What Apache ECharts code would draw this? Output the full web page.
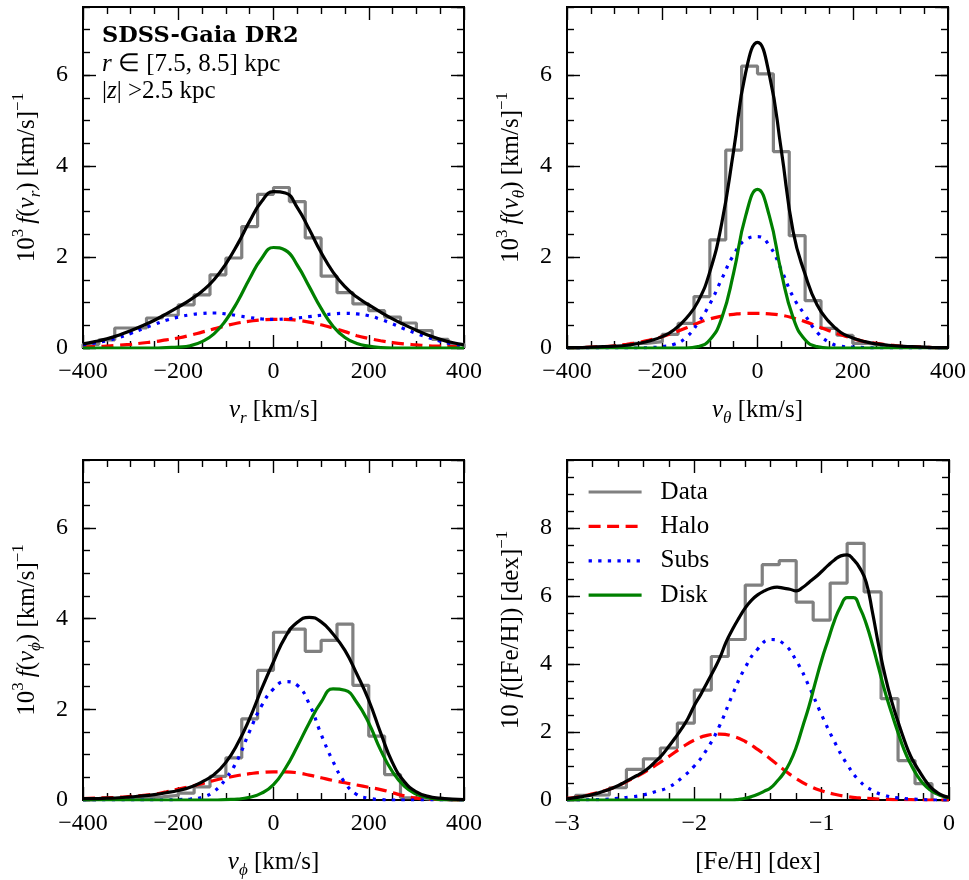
<!DOCTYPE html>
<html><head><meta charset="utf-8">
<script src="https://cdn.jsdelivr.net/npm/echarts@6/dist/echarts.min.js"></script>
<style>html,body{margin:0;padding:0;background:#fff}#c{width:969px;height:880px}</style>
</head><body><div id="c"></div>
<script>
// ---------- tick labels ----------
const vTicks = [-400, -200, 0, 200, 400];
const fehTicks = [-3, -2, -1, 0];
const fvTicks = [0, 2, 4, 6];
const fvMax = 7.5;
const ffehTicks = [0, 2, 4, 6, 8];
const ffehMax = 10;

// ---------- velocity panels: x samples and histogram bin edges ----------
const vCurveX = [-400,-375,-350,-325,-300,-275,-250,-225,-200,-175,-150,-125,-100,-75,-50,-25,0,25,50,75,100,125,150,175,200,225,250,275,300,325,350,375,400];
const vBinEdges = [-400,-366.67,-333.33,-300,-266.67,-233.33,-200,-166.67,-133.33,-100,-66.67,-33.33,0,33.33,66.67,100,133.33,166.67,200,233.33,266.67,300,333.33,366.67,400];

// panel 1: v_r
const vrData  = [0.08,0.18,0.44,0.44,0.66,0.72,0.95,1.17,1.61,1.98,2.67,3.38,3.53,3.22,2.42,1.58,1.22,0.97,0.82,0.68,0.55,0.38,0.19,0.08];
const vrHalo  = [0.02,0.03,0.04,0.06,0.08,0.11,0.14,0.18,0.22,0.28,0.35,0.42,0.49,0.55,0.59,0.62,0.63,0.63,0.61,0.57,0.51,0.44,0.36,0.27,0.21,0.16,0.12,0.09,0.07,0.05,0.04,0.03,0.02];
const vrSubs  = [0.07,0.11,0.16,0.23,0.32,0.42,0.52,0.61,0.68,0.73,0.76,0.77,0.75,0.71,0.67,0.64,0.63,0.64,0.66,0.69,0.72,0.75,0.76,0.75,0.71,0.63,0.53,0.42,0.32,0.23,0.15,0.09,0.05];
const vrDisk  = [0,0,0,0,0,0,0,0.01,0.02,0.05,0.14,0.31,0.61,1.03,1.53,1.97,2.21,2.15,1.82,1.35,0.87,0.48,0.23,0.10,0.04,0.01,0,0,0,0,0,0,0];
const vrTotal = [0.09,0.14,0.20,0.28,0.38,0.49,0.61,0.75,0.90,1.06,1.25,1.50,1.85,2.29,2.79,3.22,3.44,3.41,3.09,2.61,2.10,1.67,1.35,1.12,0.95,0.79,0.64,0.51,0.39,0.28,0.19,0.12,0.07];

// panel 2: v_theta
const vtData  = [0.0,0.01,0.02,0.05,0.10,0.14,0.30,0.54,1.13,2.38,4.35,6.20,6.03,4.32,2.47,1.04,0.43,0.28,0.10,0.06,0.03,0.02,0.01,0.0];
const vtHalo  = [0.01,0.01,0.02,0.03,0.05,0.08,0.12,0.18,0.25,0.34,0.44,0.55,0.64,0.70,0.74,0.76,0.76,0.75,0.72,0.66,0.58,0.48,0.38,0.29,0.21,0.14,0.10,0.07,0.04,0.03,0.02,0.01,0.01];
const vtSubs  = [0,0,0,0,0,0,0,0.01,0.03,0.08,0.23,0.55,0.97,1.52,2.05,2.38,2.45,2.25,1.72,1.12,0.72,0.35,0.13,0.04,0.02,0.01,0,0,0,0,0,0,0];
const vtDisk  = [0,0,0,0,0,0,0,0,0,0,0,0.03,0.18,0.66,1.66,2.90,3.49,2.90,1.66,0.66,0.18,0.03,0,0,0,0,0,0,0,0,0,0,0];
const vtTotal = [0.01,0.01,0.02,0.03,0.04,0.06,0.10,0.16,0.25,0.40,0.65,1.02,1.68,2.75,4.35,6.05,6.72,6.00,4.35,2.55,1.62,0.95,0.58,0.34,0.22,0.14,0.09,0.06,0.04,0.03,0.02,0.01,0.01];

// panel 3: v_phi
const vpData  = [0.02,0.03,0.04,0.05,0.07,0.10,0.15,0.29,0.52,0.93,1.79,2.86,3.70,3.77,3.28,3.52,3.88,2.53,1.41,0.56,0.05,0.02,0.01,0.0];
const vpHalo  = [0.03,0.04,0.05,0.06,0.08,0.10,0.13,0.18,0.24,0.30,0.36,0.43,0.49,0.54,0.58,0.61,0.62,0.62,0.60,0.55,0.49,0.43,0.38,0.33,0.28,0.23,0.16,0.09,0.04,0.02,0.01,0.0,0.0];
const vpSubs  = [0,0,0,0,0,0,0,0,0.01,0.02,0.06,0.19,0.47,0.90,1.52,2.08,2.45,2.61,2.53,2.12,1.45,0.85,0.38,0.12,0.04,0.01,0,0,0,0,0,0,0];
const vpDisk  = [0,0,0,0,0,0,0,0,0,0,0,0,0.01,0.02,0.06,0.15,0.34,0.70,1.18,1.70,2.16,2.45,2.42,2.15,1.70,1.10,0.62,0.30,0.13,0.05,0.01,0,0];
const vpTotal = [0.03,0.03,0.04,0.05,0.07,0.09,0.12,0.16,0.21,0.28,0.40,0.56,0.83,1.25,1.80,2.45,3.05,3.60,3.92,4.03,3.93,3.66,3.30,2.78,2.20,1.48,0.82,0.40,0.18,0.08,0.04,0.02,0.01];

// panel 4: [Fe/H]
const fehX10 = [-3.0,-2.9,-2.8,-2.7,-2.6,-2.5,-2.4,-2.3,-2.2,-2.1,-2.0,-1.9,-1.8,-1.7,-1.6,-1.5,-1.4,-1.3,-1.2,-1.1,-1.0,-0.9,-0.8,-0.7,-0.6,-0.5,-0.4,-0.3,-0.2,-0.1,0.0];
const fehX20 = [-3.0,-2.95,-2.9,-2.85,-2.8,-2.75,-2.7,-2.65,-2.6,-2.55,-2.5,-2.45,-2.4,-2.35,-2.3,-2.25,-2.2,-2.15,-2.1,-2.05,-2.0,-1.95,-1.9,-1.85,-1.8,-1.75,-1.7,-1.65,-1.6,-1.55,-1.5,-1.45,-1.4,-1.35,-1.3,-1.25,-1.2,-1.15,-1.1,-1.05,-1.0,-0.95,-0.9,-0.85,-0.8,-0.75,-0.7,-0.65,-0.6,-0.55,-0.5,-0.45,-0.4,-0.35,-0.3,-0.25,-0.2,-0.15,-0.1,-0.05,0.0];
const fehBinEdges = [-2.9333,-2.8,-2.6667,-2.5333,-2.4,-2.2667,-2.1333,-2.0,-1.8667,-1.7333,-1.6,-1.4667,-1.3333,-1.2,-1.0667,-0.9333,-0.8,-0.6667,-0.5333,-0.4,-0.2667,-0.1333];
const fehData  = [0.14,0.15,0.36,0.90,1.21,1.53,2.26,3.23,4.22,4.72,6.32,6.92,7.04,5.82,5.29,6.38,7.55,6.12,2.98,1.16,0.48];
const fehHalo  = [0.05,0.10,0.18,0.28,0.42,0.60,0.80,1.03,1.28,1.54,1.76,1.90,1.94,1.88,1.72,1.48,1.20,0.90,0.63,0.42,0.27,0.17,0.10,0.06,0.04,0.02,0.01,0.01,0.0,0.0,0.0];
const fehSubs  = [0.0,0.0,0.01,0.02,0.05,0.09,0.15,0.25,0.38,0.65,1.00,1.50,2.20,3.10,3.90,4.45,4.72,4.60,4.10,3.35,2.50,1.72,1.05,0.55,0.28,0.13,0.06,0.03,0.01,0.0,0.0];
const fehDisk  = [0,0,0,0,0,0,0,0,0,0,0,0,0,0,0,0,0,0,0,0,0,0,0,0,0,0,0,0.02,0.05,0.10,0.17,0.26,0.36,0.55,0.78,1.10,1.55,2.15,2.75,3.45,4.12,4.70,5.27,5.70,5.95,5.95,5.65,5.18,4.55,3.85,3.15,2.55,1.98,1.45,1.05,0.72,0.47,0.30,0.19,0.11,0.07];
const fehTotal = [0.04,0.06,0.09,0.12,0.16,0.21,0.27,0.34,0.42,0.52,0.62,0.72,0.83,0.97,1.15,1.34,1.58,1.83,2.10,2.40,2.78,3.10,3.45,3.80,4.18,4.65,5.02,5.35,5.65,5.88,6.04,6.15,6.23,6.26,6.23,6.20,6.15,6.25,6.40,6.55,6.72,6.90,7.06,7.18,7.21,7.07,6.82,6.40,5.50,4.50,3.62,2.90,2.30,1.75,1.28,0.95,0.65,0.40,0.24,0.13,0.08];

// ---------- styling ----------
const FONT = 'Liberation Serif';
const C = { data:'#808080', halo:'#ff0000', subs:'#0000ff', disk:'#008000', total:'#000000' };
const LW = 3.2;

const rich = {
  i:   { fontStyle:'italic', fontSize:25, fontFamily:FONT, color:'#000', lineHeight:34 },
  sub: { fontStyle:'italic', fontSize:17, fontFamily:FONT, color:'#000', verticalAlign:'bottom', lineHeight:20 },
  sup: { fontSize:17, fontFamily:FONT, color:'#000', verticalAlign:'top', lineHeight:18 }
};
const nameStyle = { fontSize:25, fontFamily:FONT, color:'#000', lineHeight:34, rich: rich };

const grids = [
  { left:83,  top:7,   width:381, height:341 },
  { left:567, top:7,   width:382, height:341 },
  { left:83,  top:460, width:381, height:341 },
  { left:567, top:460, width:382, height:341 }
].map(g => Object.assign({ show:true, borderColor:'#000', borderWidth:2, backgroundColor:'rgba(0,0,0,0)' }, g));

function fmt(v){ return v < 0 ? '\u2212' + Math.abs(v) : String(v); }

const tickLS = { color:'#000', width:1.4 };
const noLine = { show:false, onZero:false };
function xPair(g, ticks, minorSplit, name){
  const base = {
    type:'value', gridIndex:g, min:ticks[0], max:ticks[ticks.length-1], interval:ticks[1]-ticks[0],
    axisLine:noLine, splitLine:{show:false},
    axisTick:{show:true, inside:true, length:13, lineStyle:tickLS},
    minorTick:{show:true, splitNumber:minorSplit, length:7, lineStyle:tickLS},
    minorSplitLine:{show:false}
  };
  return [
    Object.assign({}, base, { position:'bottom', name:name, nameLocation:'middle', nameGap:45, nameTextStyle:nameStyle,
      axisLabel:{show:true, margin:12, fontSize:24, fontFamily:FONT, color:'#000', formatter:fmt, showMinLabel:true, showMaxLabel:true} }),
    Object.assign({}, base, { position:'top', axisLabel:{show:false} })
  ];
}
function yQuad(g, ticks, ymax, name){
  const major = {
    type:'value', gridIndex:g, min:0, max:ymax, interval:ticks[1]-ticks[0],
    axisLine:noLine, splitLine:{show:false},
    axisTick:{show:true, inside:true, length:13, lineStyle:tickLS}
  };
  const minor = {
    type:'value', gridIndex:g, min:0, max:ymax, interval:(ticks[1]-ticks[0])/4,
    axisLine:noLine, splitLine:{show:false}, axisLabel:{show:false},
    axisTick:{show:true, inside:true, length:7, lineStyle:tickLS}
  };
  return [
    Object.assign({}, major, { position:'left', name:name, nameLocation:'middle', nameGap:39, nameRotate:90, nameTextStyle:nameStyle,
      axisLabel:{show:true, margin:15, fontSize:24, fontFamily:FONT, color:'#000', showMaxLabel:false} }),
    Object.assign({}, minor, { position:'left' }),
    Object.assign({}, major, { position:'right', axisLabel:{show:false} }),
    Object.assign({}, minor, { position:'right' })
  ];
}

const xAxes = [].concat(
  xPair(0, vTicks, 4, '{i|v}{sub|r} [km/s]'),
  xPair(1, vTicks, 4, '{i|v}{sub|\u03b8} [km/s]'),
  xPair(2, vTicks, 4, '{i|v}{sub|\u03d5} [km/s]'),
  xPair(3, fehTicks, 5, '[Fe/H] [dex]')
);
const yAxes = [].concat(
  yQuad(0, fvTicks, fvMax, '10{sup|3}\u2009{i|f}({i|v}{sub|r}) [km/s]{sup|\u22121}'),
  yQuad(1, fvTicks, fvMax, '10{sup|3}\u2009{i|f}({i|v}{sub|\u03b8}) [km/s]{sup|\u22121}'),
  yQuad(2, fvTicks, fvMax, '10{sup|3}\u2009{i|f}({i|v}{sub|\u03d5}) [km/s]{sup|\u22121}'),
  yQuad(3, ffehTicks, ffehMax, '10 {i|f}([Fe/H]) [dex]{sup|\u22121}')
);

function histSeries(g, edges, heights){
  const d = [[edges[0], 0]];
  for (let i = 0; i < heights.length; i++) d.push([edges[i], heights[i]]);
  d.push([edges[heights.length], heights[heights.length-1]]);
  d.push([edges[heights.length], 0]);
  return { type:'line', name:'Data', xAxisIndex:2*g, yAxisIndex:4*g, data:d, step:'end', symbol:'none',
    lineStyle:{color:C.data, width:LW}, itemStyle:{color:C.data}, z:2, silent:true, animation:false };
}
function curveSeries(g, name, xs, ys, color, type, z){
  return { type:'line', name:name, xAxisIndex:2*g, yAxisIndex:4*g, data:xs.map((x,i)=>[x, ys[i]]),
    symbol:'none', smooth:0.5,
    lineStyle:{color:color, width:LW, type:type, cap:'butt'}, itemStyle:{color:color}, z:z, silent:true, animation:false };
}
const DASH = [12, 6.5];
const DOT = [3.3, 6.3];
function panel(g, xs, edges, data, halo, subs, disk, total, xs2){
  const xt = xs2 || xs;
  return [
    histSeries(g, edges, data),
    curveSeries(g, 'Halo', xs, halo, C.halo, DASH, 3),
    curveSeries(g, 'Subs', xs, subs, C.subs, DOT, 3),
    curveSeries(g, 'Disk', xt, disk, C.disk, 'solid', 4),
    curveSeries(g, 'Total', xt, total, C.total, 'solid', 5)
  ];
}

const series = [].concat(
  panel(0, vCurveX, vBinEdges, vrData, vrHalo, vrSubs, vrDisk, vrTotal),
  panel(1, vCurveX, vBinEdges, vtData, vtHalo, vtSubs, vtDisk, vtTotal),
  panel(2, vCurveX, vBinEdges, vpData, vpHalo, vpSubs, vpDisk, vpTotal),
  panel(3, fehX10, fehBinEdges, fehData, fehHalo, fehSubs, fehDisk, fehTotal, fehX20)
);

const chart = echarts.init(document.getElementById('c'), null, {renderer:'canvas'});
chart.setOption({
  backgroundColor:'#ffffff',
  animation:false,
  grid: grids,
  xAxis: xAxes,
  yAxis: yAxes,
  series: series,
  legend: {
    data:['Data','Halo','Subs','Disk'], orient:'vertical', left:582, top:474,
    itemWidth:53, itemHeight:26, itemGap:8.4, selectedMode:false,
    itemStyle:{opacity:0},
    lineStyle:{width:LW},
    textStyle:{fontSize:25, fontFamily:FONT, color:'#000', lineHeight:26, padding:[0,0,0,14]}
  },
  graphic: [
    { type:'text', x:102, y:36, style:{ text:'SDSS-Gaia DR2', fontFamily:'DejaVu Serif', fontWeight:'bold', fontSize:22.5, fill:'#000', verticalAlign:'middle' } },
    { type:'text', x:102, y:64, style:{ text:'{i|r} \u2208 [7.5, 8.5] kpc', fontFamily:FONT, fontSize:25, fill:'#000', verticalAlign:'middle',
      rich:{ i:{fontStyle:'italic', fontFamily:FONT, fontSize:25} } } },
    { type:'text', x:102, y:91, style:{ text:'|{i|z}| >2.5 kpc', fontFamily:FONT, fontSize:25, fill:'#000', verticalAlign:'middle',
      rich:{ i:{fontStyle:'italic', fontFamily:FONT, fontSize:25} } } }
  ]
});
</script></body></html>
